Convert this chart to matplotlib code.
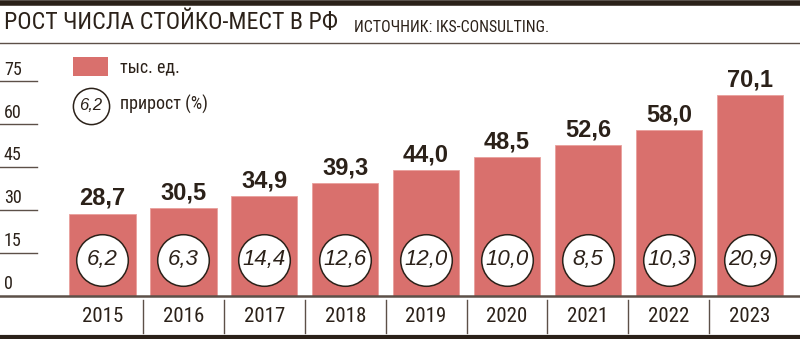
import os
import matplotlib
matplotlib.use("Agg")
import matplotlib.pyplot as plt
from matplotlib import font_manager
import matplotlib.transforms as mtransforms

# data
years = ["2015", "2016", "2017", "2018", "2019", "2020", "2021", "2022", "2023"]
units = [28.7, 30.5, 34.9, 39.3, 44.0, 48.5, 52.6, 58.0, 70.1]
growth = [6.2, 6.3, 14.4, 12.6, 12.0, 10.0, 8.5, 10.3, 20.9]
yticks = [0, 15, 30, 45, 60, 75]

title = "РОСТ ЧИСЛА СТОЙКО-МЕСТ В РФ"
source = "ИСТОЧНИК: IKS-CONSULTING."
legend_bar = "тыс. ед."
legend_circle = "прирост (%)"

BAR = "#d9706d"
INK = "#2b2119"
LINE = "#5c5048"


def find_font(candidates):
    files = {os.path.basename(f.fname).lower(): f.fname for f in font_manager.fontManager.ttflist}
    for c in candidates:
        if c.lower() in files:
            return files[c.lower()]
    return None


narrow_file = find_font(["LiberationSansNarrow-Regular.ttf", "RobotoCondensed-Regular.ttf",
                         "DejaVuSansCondensed.ttf", "LiberationSans-Regular.ttf"])
bold_file = find_font(["LiberationSans-Bold.ttf", "Arimo-Bold.ttf", "DejaVuSans-Bold.ttf"])
ital_file = find_font(["LiberationSans-Italic.ttf", "Arimo-Italic.ttf", "DejaVuSans-Oblique.ttf"])


def fp(path, size):
    if path:
        return font_manager.FontProperties(fname=path, size=size)
    return font_manager.FontProperties(size=size)


def fmt(v):
    return f"{v:.1f}".replace(".", ",")


fig = plt.figure(figsize=(8, 3.39), dpi=100)
W, H = 800, 339

# pixel layout of plot area
y0_px = 295.7      # baseline
top_px = 44
px_per_unit = 2.86
x0_px = 102.5
step_px = 80.9

ax = fig.add_axes([0, (H - y0_px) / H, 1, (y0_px - top_px) / H])
ax.set_xlim(-x0_px / step_px, (W - x0_px) / step_px)
ax.set_ylim(0, (y0_px - top_px) / px_per_unit)
ax.axis("off")

xs = list(range(len(years)))
ax.bar(xs, units, width=0.82, color=BAR, edgecolor="#e9a09c", linewidth=0.6, zorder=2)

for x, v in zip(xs, units):
    ax.text(x, v + 1.3, fmt(v), ha="center", va="bottom", fontproperties=fp(bold_file, 17),
            color=INK, zorder=4)

circ_y = (y0_px - 260) / px_per_unit
ax.scatter(xs, [circ_y] * len(xs), s=1380, facecolor="white", edgecolor=INK,
           linewidth=1.1, zorder=3)
for x, g in zip(xs, growth):
    ax.text(x, circ_y, fmt(g), ha="center", va="center", fontproperties=fp(ital_file, 16),
            color=INK, zorder=4)

# y ticks with underlines
trans_y = mtransforms.blended_transform_factory(fig.transFigure, ax.transData)
for t in yticks:
    ax.text(4 / W, t + 0.9, str(t), transform=trans_y, ha="left", va="bottom",
            fontproperties=fp(narrow_file, 13), color=INK)
    if t > 0:
        ax.plot([0, 37 / W], [t, t], transform=trans_y, color=LINE, lw=1.0,
                clip_on=False)

# baseline
ax.plot([0, 1], [0, 0], transform=trans_y, color=LINE, lw=1.8, clip_on=False, zorder=5)

# year labels and separators
trans_x = mtransforms.blended_transform_factory(ax.transData, fig.transFigure)
for x, yr in zip(xs, years):
    ax.text(x, (H - 317) / H, yr, transform=trans_x, ha="center", va="center",
            fontproperties=fp(narrow_file, 15), color=INK)
for x in xs[:-1]:
    ax.plot([x + 0.5, x + 0.5], [(H - 300) / H, (H - 333) / H], transform=trans_x,
            color=LINE, lw=1.0, clip_on=False)

# header and frame lines
fig.add_artist(plt.Line2D([0, 1], [1 - 2.6 / H, 1 - 2.6 / H], color=INK, lw=4.0))
fig.add_artist(plt.Line2D([0, 1], [1 - 43 / H, 1 - 43 / H], color=LINE, lw=1.0))
fig.add_artist(plt.Line2D([0, 1], [1.8 / H, 1.8 / H], color=INK, lw=3.0))

fig.text(4 / W, 1 - 23 / H, title, ha="left", va="center",
         fontproperties=fp(narrow_file, 17.2), color=INK)
fig.text(354 / W, 1 - 28 / H, source, ha="left", va="center",
         fontproperties=fp(narrow_file, 11.4), color=INK)

# legend
fig.add_artist(plt.Rectangle((73 / W, 1 - 76 / H), 35 / W, 19 / H,
                             facecolor=BAR, edgecolor="none"))
fig.text(120 / W, 1 - 67 / H, legend_bar, ha="left", va="center",
         fontproperties=fp(narrow_file, 13), color=INK)
lg = fig.add_axes([0, 0, 1, 1], zorder=-1)
lg.axis("off")
lg.set_xlim(0, W)
lg.set_ylim(H, 0)
lg.scatter([90.5], [105.5], s=680, facecolor="white", edgecolor=INK, linewidth=1.1)
lg.text(90.5, 105.5, fmt(growth[0]), ha="center", va="center",
        fontproperties=fp(ital_file, 12), color=INK)
fig.text(120 / W, 1 - 104 / H, legend_circle, ha="left", va="center",
         fontproperties=fp(narrow_file, 13), color=INK)

fig.savefig("out.png", dpi=100)
